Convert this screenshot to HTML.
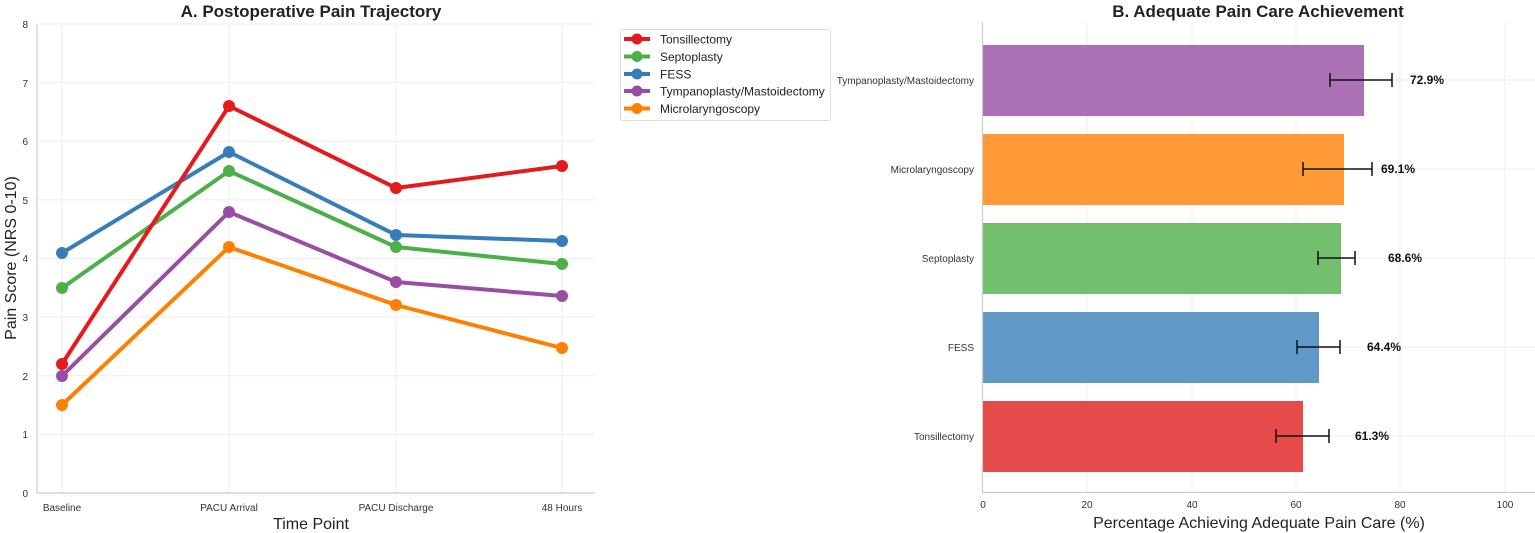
<!DOCTYPE html>
<html><head><meta charset="utf-8"><style>
html,body{margin:0;padding:0;background:#fff;}
svg{display:block;font-family:"Liberation Sans",Arial,sans-serif;}
</style></head><body>
<svg width="1535" height="533" viewBox="0 0 1535 533" xmlns="http://www.w3.org/2000/svg">
<!-- Panel A -->
<text x="311" y="17" font-size="17" font-weight="bold" text-anchor="middle" fill="#222">A. Postoperative Pain Trajectory</text>
<g stroke="#eee" stroke-width="1">
<line x1="37" x2="595" y1="434.4" y2="434.4"/><line x1="37" x2="595" y1="375.8" y2="375.8"/>
<line x1="37" x2="595" y1="317.1" y2="317.1"/><line x1="37" x2="595" y1="258.5" y2="258.5"/>
<line x1="37" x2="595" y1="199.9" y2="199.9"/><line x1="37" x2="595" y1="141.3" y2="141.3"/>
<line x1="37" x2="595" y1="82.6" y2="82.6"/><line x1="37" x2="595" y1="24" y2="24"/>
<line x1="62" x2="62" y1="24" y2="493"/><line x1="229" x2="229" y1="24" y2="493"/>
<line x1="396" x2="396" y1="24" y2="493"/><line x1="562" x2="562" y1="24" y2="493"/>
</g>
<line x1="37" y1="24" x2="37" y2="493" stroke="#ccc" stroke-width="1.2"/>
<line x1="37" y1="493" x2="595" y2="493" stroke="#ccc" stroke-width="1.2"/>
<g font-size="10" fill="#333" text-anchor="end">
<text x="28" y="497">0</text><text x="28" y="438">1</text><text x="28" y="380">2</text><text x="28" y="321">3</text>
<text x="28" y="262">4</text><text x="28" y="204">5</text><text x="28" y="145">6</text><text x="28" y="87">7</text><text x="28" y="28">8</text>
</g>
<g font-size="10" fill="#333" text-anchor="middle">
<text x="62" y="511">Baseline</text><text x="229" y="511">PACU Arrival</text><text x="396" y="511">PACU Discharge</text><text x="562" y="511">48 Hours</text>
</g>
<text x="311" y="529" font-size="16" text-anchor="middle" fill="#222">Time Point</text>
<text transform="translate(16,258) rotate(-90)" font-size="16" text-anchor="middle" fill="#222">Pain Score (NRS 0-10)</text>
<g fill="none" stroke-width="4" stroke-linejoin="round">
<polyline stroke="#ff7f00" points="62,405 229,247 396,305 562,348"/>
<polyline stroke="#984ea3" points="62,376 229,212 396,282 562,296"/>
<polyline stroke="#4daf4a" points="62,288 229,171 396,247 562,264"/>
<polyline stroke="#377eb8" points="62,253 229,152 396,235 562,241"/>
<polyline stroke="#e41a1c" points="62,364 229,106 396,188 562,166"/>
</g>
<g fill="#ff7f00"><circle cx="62" cy="405" r="6"/><circle cx="229" cy="247" r="6"/><circle cx="396" cy="305" r="6"/><circle cx="562" cy="348" r="6"/></g>
<g fill="#984ea3"><circle cx="62" cy="376" r="6"/><circle cx="229" cy="212" r="6"/><circle cx="396" cy="282" r="6"/><circle cx="562" cy="296" r="6"/></g>
<g fill="#4daf4a"><circle cx="62" cy="288" r="6"/><circle cx="229" cy="171" r="6"/><circle cx="396" cy="247" r="6"/><circle cx="562" cy="264" r="6"/></g>
<g fill="#377eb8"><circle cx="62" cy="253" r="6"/><circle cx="229" cy="152" r="6"/><circle cx="396" cy="235" r="6"/><circle cx="562" cy="241" r="6"/></g>
<g fill="#e41a1c"><circle cx="62" cy="364" r="6"/><circle cx="229" cy="106" r="6"/><circle cx="396" cy="188" r="6"/><circle cx="562" cy="166" r="6"/></g>
<!-- Legend -->
<rect x="620.5" y="29.5" width="210" height="91" rx="2" fill="#fff" stroke="#ddd"/>
<g font-size="12" fill="#222">
<line x1="624" x2="650" y1="39" y2="39" stroke="#e41a1c" stroke-width="4"/><circle cx="637" cy="39" r="5.5" fill="#e41a1c"/><text x="660" y="43.5">Tonsillectomy</text>
<line x1="624" x2="650" y1="56.5" y2="56.5" stroke="#4daf4a" stroke-width="4"/><circle cx="637" cy="56.5" r="5.5" fill="#4daf4a"/><text x="660" y="61">Septoplasty</text>
<line x1="624" x2="650" y1="74" y2="74" stroke="#377eb8" stroke-width="4"/><circle cx="637" cy="74" r="5.5" fill="#377eb8"/><text x="660" y="78.5">FESS</text>
<line x1="624" x2="650" y1="91" y2="91" stroke="#984ea3" stroke-width="4"/><circle cx="637" cy="91" r="5.5" fill="#984ea3"/><text x="660" y="95.5">Tympanoplasty/Mastoidectomy</text>
<line x1="624" x2="650" y1="108.5" y2="108.5" stroke="#ff7f00" stroke-width="4"/><circle cx="637" cy="108.5" r="5.5" fill="#ff7f00"/><text x="660" y="113">Microlaryngoscopy</text>
</g>
<!-- Panel B -->
<text x="1258" y="17" font-size="17" font-weight="bold" text-anchor="middle" fill="#222">B. Adequate Pain Care Achievement</text>
<g stroke="#eee" stroke-width="1">
<line x1="1087" x2="1087" y1="22" y2="492"/><line x1="1192" x2="1192" y1="22" y2="492"/>
<line x1="1296" x2="1296" y1="22" y2="492"/><line x1="1400" x2="1400" y1="22" y2="492"/><line x1="1505" x2="1505" y1="22" y2="492"/>
<line x1="983" x2="1535" y1="80" y2="80"/><line x1="983" x2="1535" y1="169" y2="169"/><line x1="983" x2="1535" y1="258" y2="258"/><line x1="983" x2="1535" y1="347" y2="347"/><line x1="983" x2="1535" y1="436" y2="436"/>
</g>
<rect x="983" y="45" width="381" height="71" fill="#ab71b5"/>
<rect x="983" y="134" width="361" height="71" fill="#ff9a36"/>
<rect x="983" y="223" width="358" height="71" fill="#72bf6e"/>
<rect x="983" y="312" width="336" height="71" fill="#6199c9"/>
<rect x="983" y="401" width="320" height="71" fill="#e64a4a"/>
<line x1="982.5" y1="22" x2="982.5" y2="492" stroke="#ccc" stroke-width="1.2"/>
<line x1="982" y1="492.5" x2="1535" y2="492.5" stroke="#ccc" stroke-width="1.2"/>
<g stroke="#111" stroke-width="1.5">
<line x1="1330" x2="1392" y1="80" y2="80"/><line x1="1330" x2="1330" y1="73" y2="87"/><line x1="1392" x2="1392" y1="73" y2="87"/>
<line x1="1303" x2="1372" y1="169" y2="169"/><line x1="1303" x2="1303" y1="162" y2="176"/><line x1="1372" x2="1372" y1="162" y2="176"/>
<line x1="1318" x2="1355" y1="258" y2="258"/><line x1="1318" x2="1318" y1="251" y2="265"/><line x1="1355" x2="1355" y1="251" y2="265"/>
<line x1="1297" x2="1340" y1="347" y2="347"/><line x1="1297" x2="1297" y1="340" y2="354"/><line x1="1340" x2="1340" y1="340" y2="354"/>
<line x1="1276" x2="1329" y1="436" y2="436"/><line x1="1276" x2="1276" y1="429" y2="443"/><line x1="1329" x2="1329" y1="429" y2="443"/>
</g>
<g font-size="12" font-weight="bold" fill="#111">
<text x="1410" y="84">72.9%</text><text x="1381" y="173">69.1%</text><text x="1388" y="262">68.6%</text><text x="1367" y="351">64.4%</text><text x="1355" y="440">61.3%</text>
</g>
<g font-size="10" fill="#333" text-anchor="end">
<text x="974" y="84">Tympanoplasty/Mastoidectomy</text><text x="974" y="173">Microlaryngoscopy</text><text x="974" y="262">Septoplasty</text><text x="974" y="351">FESS</text><text x="974" y="440">Tonsillectomy</text>
</g>
<g font-size="10" fill="#333" text-anchor="middle">
<text x="983" y="508">0</text><text x="1087" y="508">20</text><text x="1192" y="508">40</text><text x="1296" y="508">60</text><text x="1400" y="508">80</text><text x="1505" y="508">100</text>
</g>
<text x="1259" y="528" font-size="16" text-anchor="middle" fill="#222">Percentage Achieving Adequate Pain Care (%)</text>
</svg>
</body></html>
